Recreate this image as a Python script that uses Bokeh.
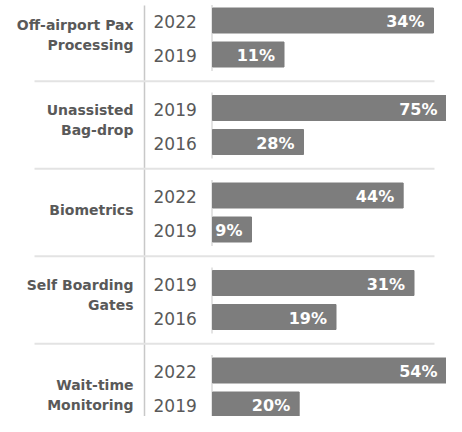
from bokeh.plotting import figure
from bokeh.models import Range1d, ColumnDataSource
from bokeh.core.properties import value
from bokeh.embed import file_html
from bokeh.resources import INLINE

# ---- data ----
groups = ["Off-airport Pax\nProcessing", "Unassisted\nBag-drop", "Biometrics",
          "Self Boarding\nGates", "Wait-time\nMonitoring"]
years = [["2022", "2019"], ["2019", "2016"], ["2022", "2019"], ["2019", "2016"], ["2022", "2019"]]
values = [[34, 11], [75, 28], [44, 9], [31, 19], [54, 20]]
# each panel has its own scale: value shown at the right edge of the chart
panel_max = [36, 72, 54, 36, 54]

# ---- layout (pixel-like coordinates) ----
W, H = 446, 416
BAR_START = 212
FIRST = 20.0
GROUP_PITCH = 87.5
ROW_PITCH = 34.0
BAR_H = 25
LABEL_DY = [-3, -5, -3, -5, 7]   # vertical nudge of the group labels

GREY = "#7d7d7d"
TEXT = "#595959"

p = figure(width=W, height=H, output_backend="svg", toolbar_location=None,
           x_range=Range1d(0, W), y_range=Range1d(H, 0),
           min_border=0, outline_line_color=None, background_fill_color="white",
           border_fill_color="white")
p.axis.visible = False
p.grid.visible = False

span = W - BAR_START
for i, mx in enumerate(panel_max):
    p.extra_x_ranges[f"g{i}"] = Range1d(-BAR_START / span * mx, mx)

# vertical divider
p.segment(x0=[144], y0=[5], x1=[144], y1=[H], line_color="#c8c8c8", line_width=1.5)

for i, (g, ys, vs) in enumerate(zip(groups, years, values)):
    c0 = FIRST + i * GROUP_PITCH
    yc = [c0 + j * ROW_PITCH for j in range(len(vs))]
    # bar baseline
    p.segment(x0=[BAR_START - 0.5], y0=[yc[0] - BAR_H / 2 - 3], x1=[BAR_START - 0.5],
              y1=[yc[-1] + BAR_H / 2 + 4], line_color="#c8c8c8", line_width=1)
    lx = [min(v, panel_max[i]) for v in vs]  # keep label inside the visible panel
    src = ColumnDataSource(dict(y=yc, v=vs, lx=lx, lab=[f"{v}%" for v in vs], yr=ys))
    p.hbar(y="y", left=0, right="v", height=BAR_H, source=src, x_range_name=f"g{i}",
           fill_color=GREY, line_color=GREY)
    p.text(x="lx", y="y", text="lab", source=src, x_range_name=f"g{i}",
           text_align="right", text_baseline="middle", x_offset=-9, y_offset=1,
           text_color="white", text_font=value("DejaVu Sans"), text_font_style="bold",
           text_font_size="16px")
    p.text(x=153, y="y", text="yr", source=src, text_align="left", text_baseline="middle",
           y_offset=1, text_color=TEXT, text_font=value("DejaVu Sans"), text_font_size="17px")
    mid = (yc[0] + yc[-1]) / 2
    p.text(x=[133], y=[mid + LABEL_DY[i]], text=[g], text_align="right", text_baseline="middle",
           text_color=TEXT, text_font=value("DejaVu Sans"), text_font_style="bold",
           text_font_size="14px", text_line_height=1.25)
    if i < len(groups) - 1:
        ysep = mid + GROUP_PITCH / 2
        p.segment(x0=[34], y0=[ysep], x1=[434], y1=[ysep], line_color="#e3e3e3", line_width=2)

open("out.html", "w").write(file_html(p, INLINE))
